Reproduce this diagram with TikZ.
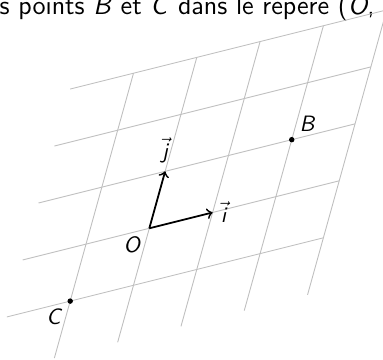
\documentclass[tikz,border=0pt]{standalone}
\newcommand{\lettre}[1]{\textsl{#1}}
\begin{document}
\begin{tikzpicture}[font=\sffamily,
  gridline/.style={gray!50, line width=0.4pt},
  vecteur/.style={thick, ->}]
  \useasboundingbox (-2.359,-2.065) rectangle (3.692,3.607);

  \node[anchor=base west, inner sep=0pt, font=\sffamily\fontsize{12}{15}\selectfont] (consigne) at (-2.37,3.38)
    {s points \lettre{B} et \lettre{C} dans le rep\`ere (\lettre{O},};

  \begin{scope}[x={(1cm,0.25cm)}, y={(0.25cm,0.9cm)}]
    % Grid
    \foreach \k in {-1,...,3} {
      \draw[gridline] (-2,\k) -- (3,\k);
      \draw[gridline] (\k,-2) -- (\k,3);
    }

    \coordinate (O) at (0,0);
    \coordinate (I) at (1,0);
    \coordinate (J) at (0,1);
    \coordinate (B) at (2,1);
    \coordinate (C) at (-1,-1);

    % Base vectors
    \draw[vecteur] (O) -- (I) node[right] (li) {$\vec{\lettre{i}}$};
    \draw[vecteur] (O) -- (J) node[above] (lj) {$\vec{\lettre{j}}$};

    \node[below left] (lO) at (O) {\lettre{O}};
    \filldraw[black] (B) circle (1pt) node[above right] (lB) {\lettre{B}};
    \filldraw[black] (C) circle (1pt) node[below left]  (lC) {\lettre{C}};
  \end{scope}
\end{tikzpicture}
\end{document}
